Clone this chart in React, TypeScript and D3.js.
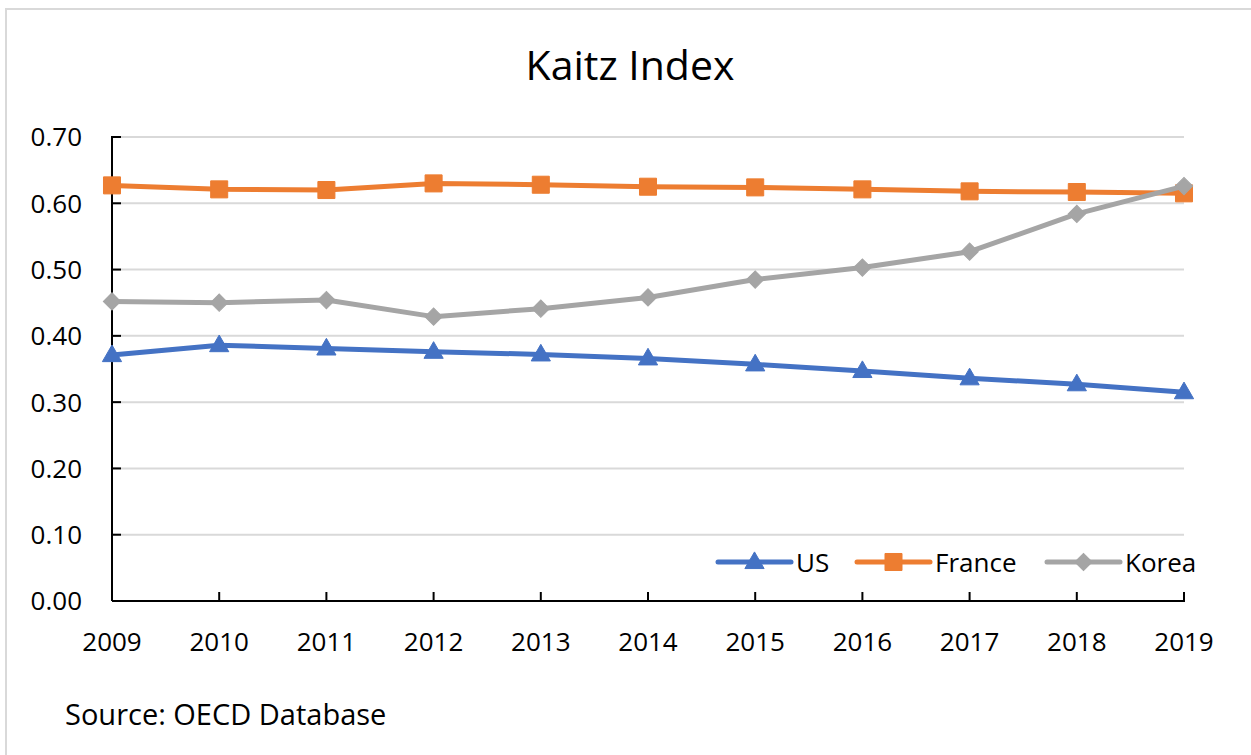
import React from "react";
import * as d3 from "d3";

const W = 1251;
const H = 755;
const FONT = "'Open Sans', 'Noto Sans', sans-serif";

const years = [2009, 2010, 2011, 2012, 2013, 2014, 2015, 2016, 2017, 2018, 2019];
const usValues = [0.371, 0.386, 0.381, 0.376, 0.372, 0.366, 0.357, 0.347, 0.336, 0.327, 0.315];
const franceValues = [0.627, 0.621, 0.62, 0.63, 0.628, 0.625, 0.624, 0.621, 0.618, 0.617, 0.615];
const koreaValues = [0.452, 0.45, 0.454, 0.429, 0.441, 0.458, 0.485, 0.503, 0.527, 0.584, 0.626];
const yTicks = [0, 0.1, 0.2, 0.3, 0.4, 0.5, 0.6, 0.7];

const seriesNames = ["US", "France", "Korea"];
const seriesColors = ["#4472C4", "#ED7D31", "#A5A5A5"];
// korea uses a square turned 45deg so the diamond is as wide as it is tall
const seriesSymbols = [d3.symbolTriangle, d3.symbolSquare, d3.symbolSquare];
const seriesRotate = [0, 0, 45];
const symSize = [160, 290, 150];
const seriesValues = [usValues, franceValues, koreaValues];

// legend x positions (start of the line sample)
const legendX = [718, 857, 1047];

const PLOT = { left: 112, right: 1184, top: 137, bottom: 601 };

export default function App() {
  const x = d3
    .scaleLinear()
    .domain([years[0], years[years.length - 1]])
    .range([PLOT.left, PLOT.right]);
  const y = d3.scaleLinear().domain([0, 0.7]).range([PLOT.bottom, PLOT.top]);

  const line = d3
    .line<number>()
    .x((_, i) => x(years[i]))
    .y((d) => y(d));

  const sym = (si: number) => d3.symbol().type(seriesSymbols[si]).size(symSize[si])() || "";
  const markerTransform = (si: number, cx: number, cy: number) =>
    `translate(${cx},${cy + (si === 0 ? 1 : 0)}) rotate(${seriesRotate[si]})`;

  return (
    <svg
      width={W}
      height={H}
      style={{ position: "absolute", left: 0, top: 0, background: "#fff" }}
      fontFamily={FONT}
    >
      {/* outer frame */}
      <path d={`M6,${H} V9 H${W}`} fill="none" stroke="#d9d9d9" strokeWidth={2} />

      <text x={630} y={80} textAnchor="middle" fontSize={41} fill="#000">
        Kaitz Index
      </text>

      {/* gridlines */}
      {yTicks.map((t) => (
        <line
          key={"g" + t}
          x1={PLOT.left}
          x2={PLOT.right}
          y1={y(t)}
          y2={y(t)}
          stroke="#d9d9d9"
          strokeWidth={2}
        />
      ))}

      {/* y axis */}
      <line x1={PLOT.left} x2={PLOT.left} y1={PLOT.top - 1} y2={PLOT.bottom} stroke="#000" strokeWidth={2} />
      {yTicks.map((t) => (
        <g key={"y" + t}>
          <line x1={PLOT.left} x2={PLOT.left + 9} y1={y(t)} y2={y(t)} stroke="#000" strokeWidth={2} />
          <text x={82} y={y(t)} dy="0.36em" textAnchor="end" fontSize={26} fill="#000">
            {t.toFixed(2)}
          </text>
        </g>
      ))}

      {/* x axis */}
      <line x1={PLOT.left} x2={PLOT.right + 1} y1={PLOT.bottom} y2={PLOT.bottom} stroke="#000" strokeWidth={2} />
      {years.map((yr) => (
        <g key={"x" + yr}>
          <line x1={x(yr)} x2={x(yr)} y1={PLOT.bottom} y2={PLOT.bottom - 9} stroke="#000" strokeWidth={2} />
          <text x={x(yr)} y={651} textAnchor="middle" fontSize={26} fill="#000">
            {yr}
          </text>
        </g>
      ))}

      {/* series */}
      {seriesValues.map((vals, si) => (
        <g key={seriesNames[si]}>
          <path
            d={line(vals) || ""}
            fill="none"
            stroke={seriesColors[si]}
            strokeWidth={5}
            strokeLinejoin="round"
            strokeLinecap="round"
          />
          {vals.map((v, i) => (
            <path
              key={i}
              d={sym(si)}
              transform={markerTransform(si, x(years[i]), y(v))}
              fill={seriesColors[si]}
              stroke={seriesColors[si]}
              strokeWidth={1}
            />
          ))}
        </g>
      ))}

      {/* legend */}
      {seriesNames.map((name, si) => (
        <g key={"l" + name} transform={`translate(${legendX[si]},562)`}>
          <line x1={0} x2={73} y1={0} y2={0} stroke={seriesColors[si]} strokeWidth={5} strokeLinecap="round" />
          <path
            d={sym(si)}
            transform={markerTransform(si, 36.5, 0)}
            fill={seriesColors[si]}
            stroke={seriesColors[si]}
            strokeWidth={1}
          />
          <text x={78} y={10} fontSize={26} fill="#000">
            {name}
          </text>
        </g>
      ))}

      <text x={65} y={725} fontSize={29} fill="#000">
        Source: OECD Database
      </text>
    </svg>
  );
}
